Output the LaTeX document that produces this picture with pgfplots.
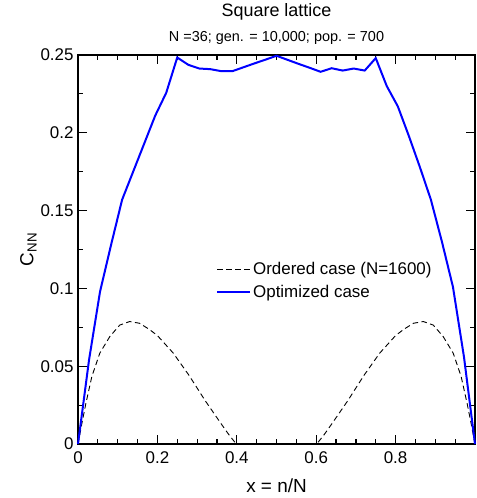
\documentclass[border=0pt]{standalone}
\usepackage{pgfplots}
\pgfplotsset{compat=1.18}
\usepackage{fontspec}
\setmainfont{Liberation Sans}
\pgfplotstableread{
x y
0 0
0.01 0.0135
0.02 0.0262
0.035 0.0435
0.055 0.0584
0.08 0.0690
0.105 0.0764
0.13 0.0787
0.155 0.0776
0.18 0.0736
0.20 0.0697
0.24 0.0584
0.28 0.0440
0.32 0.0280
0.36 0.0132
0.38 0.0060
0.395 0.0012
0.40 0
0.60 0
0.605 0.0012
0.62 0.0060
0.64 0.0132
0.68 0.0280
0.72 0.0440
0.76 0.0584
0.80 0.0697
0.82 0.0736
0.845 0.0776
0.87 0.0787
0.895 0.0764
0.92 0.0690
0.945 0.0584
0.965 0.0435
0.98 0.0262
0.99 0.0135
1 0
}\ordered
\pgfplotstableread{
x y
0 0
0.02778 0.054
0.05556 0.098
0.08333 0.128
0.11111 0.157
0.13889 0.175
0.16667 0.193
0.19444 0.211
0.22222 0.2257
0.25 0.2484
0.27778 0.2437
0.30556 0.2413
0.33333 0.2409
0.36111 0.2396
0.38889 0.2396
0.41667 0.2421
0.44444 0.2446
0.47222 0.2470
0.5 0.2495
0.52778 0.2469
0.55556 0.2443
0.58333 0.2418
0.61111 0.2392
0.63889 0.2415
0.66667 0.2400
0.69444 0.2413
0.72222 0.2400
0.75 0.2480
0.77778 0.2300
0.80556 0.2170
0.83333 0.1980
0.86111 0.1780
0.88889 0.1570
0.91667 0.1300
0.94444 0.1010
0.97222 0.0560
1 0
}\optimized
\begin{document}
\begin{tikzpicture}
\begin{axis}[
  scale only axis,
  width=397bp, height=389bp,
  xmin=0, xmax=1, ymin=0, ymax=0.25,
  xtick={0,0.2,0.4,0.6,0.8},
  xticklabels={0,0.2,0.4,0.6,0.8},
  ytick={0,0.05,0.1,0.15,0.2,0.25},
  yticklabels={0,0.05,0.1,0.15,0.2,0.25},
  minor xtick={0.05,0.1,0.15,0.25,0.3,0.35,0.45,0.5,0.55,0.65,0.7,0.75,0.85,0.9,0.95},
  minor ytick={0.025,0.075,0.125,0.175,0.225},
  tick align=inside,
  xtick pos=both, ytick pos=both,
  major tick length=9bp, minor tick length=5bp,
  every tick/.style={black, line width=1.2bp},
  axis line style={line width=1.5bp},
  ticklabel style={font=\fontsize{17}{20}\selectfont},
  xticklabel style={yshift=-4bp},
  yticklabel style={xshift=-1bp},
  xlabel={x = n/N},
  ylabel={C\textsubscript{NN}},
  label style={font=\fontsize{19}{22}\selectfont},
  xlabel style={yshift=-8bp},
  ylabel style={yshift=-3bp},
  clip=false,
  legend style={at={(0.34,0.478)}, anchor=north west, draw=none, fill=none,
    font=\fontsize{17}{20}\selectfont, row sep=5bp},
  legend cell align=left,
  legend image code/.code={\draw[#1] (0bp,0bp) -- (33bp,0bp);},
  every axis legend/.append style={/tikz/every even column/.append style={column sep=6bp}},
]
\addplot[black, line width=0.9bp, dash pattern=on 5.5bp off 3.5bp] table {\ordered};
\addlegendentry{Ordered case (N=1600)}
\addplot[blue, line width=2bp] table {\optimized};
\addlegendentry{Optimized case}
\coordinate (SW) at (rel axis cs:0,0);
\coordinate (NE) at (rel axis cs:1,1);
\node[font=\fontsize{18}{20}\selectfont] at ([yshift=43bp]rel axis cs:0.5,1) {Square lattice};
\node[font=\fontsize{14.5}{16}\selectfont] at ([yshift=17bp]rel axis cs:0.5,1) {N =36; gen. = 10,000; pop. = 700};
\end{axis}
\pgfresetboundingbox
\path ([shift={(-78bp,-54bp)}]SW) rectangle ([shift={(2bp,55bp)}]NE);
\end{tikzpicture}
\end{document}
